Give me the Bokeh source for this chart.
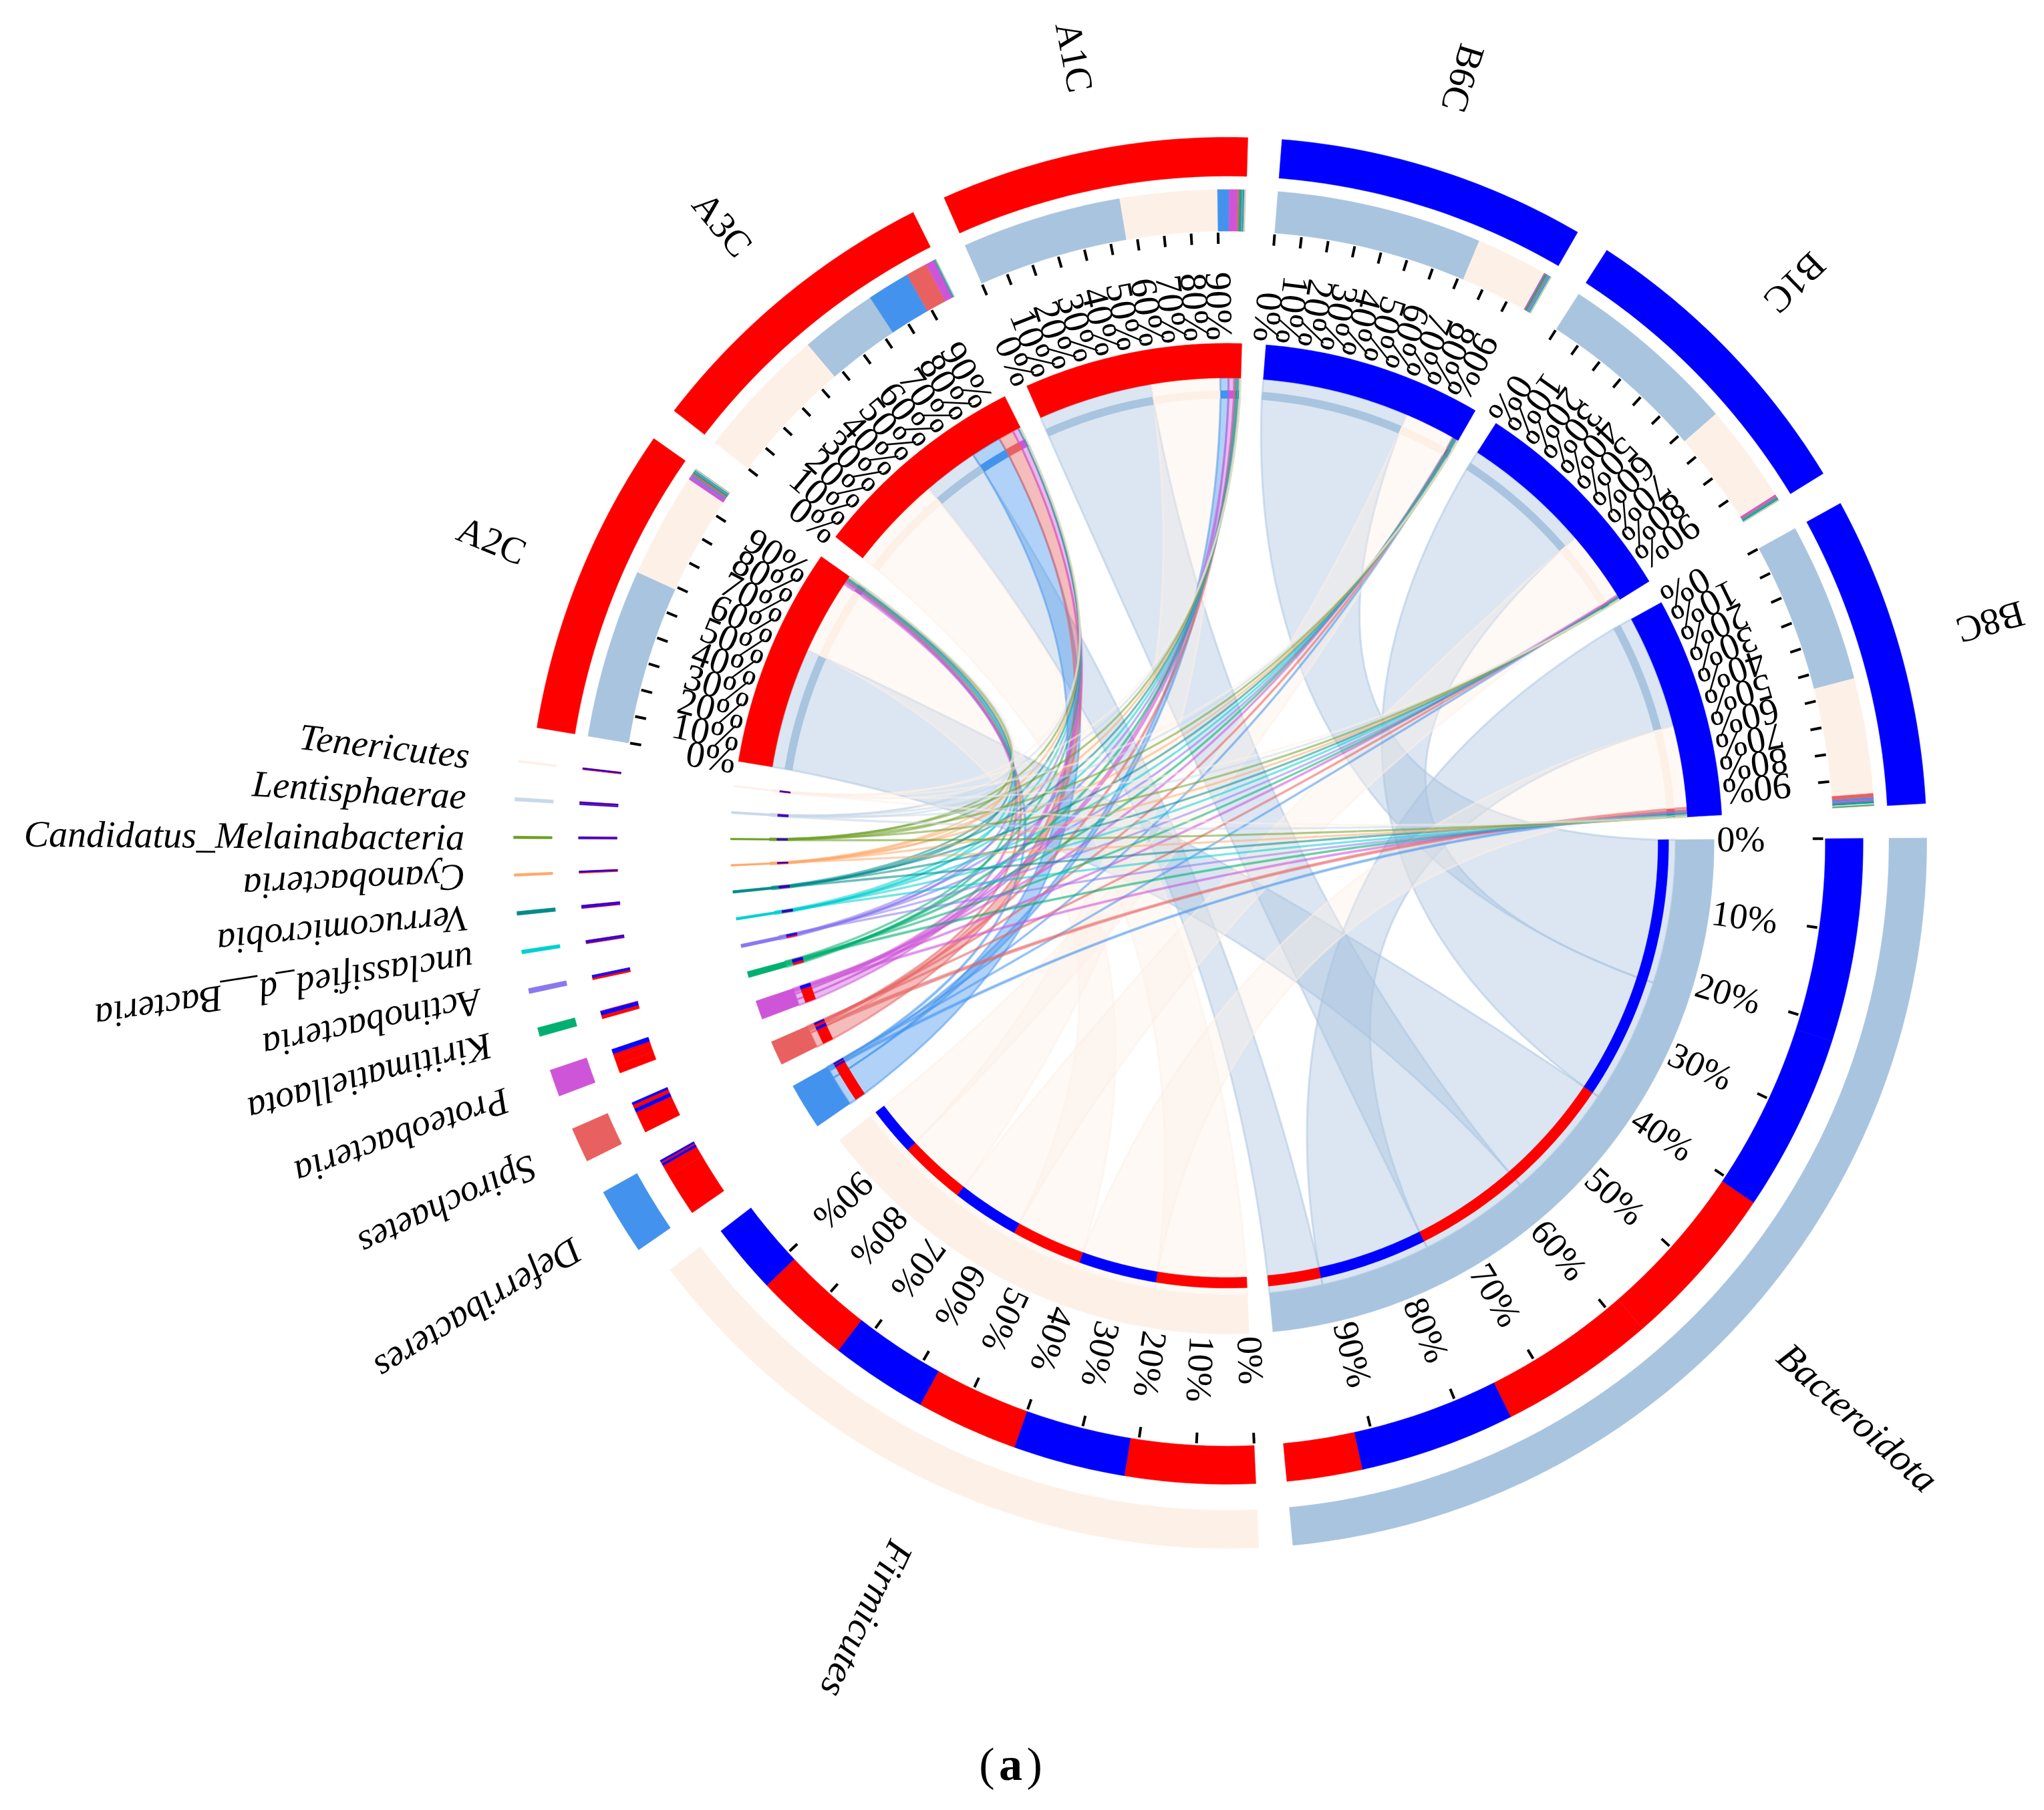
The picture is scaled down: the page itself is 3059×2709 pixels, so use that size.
import numpy as np
from bokeh.plotting import figure
from bokeh.models import Range1d
from bokeh.core.properties import value
from bokeh.embed import file_html
from bokeh.resources import INLINE

samples = ["A2C", "A3C", "A1C", "B6C", "B1C", "B8C"]
sample_colors = ["#FF0000", "#FF0000", "#FF0000", "#0000FF", "#0000FF", "#0000FF"]
species = ["Bacteroidota", "Firmicutes", "Deferribacteres", "Spirochaetes", "Proteobacteria",
           "Kiritimatiellaota", "Actinobacteria", "unclassified_d__Bacteria", "Verrucomicrobia",
           "Cyanobacteria", "Candidatus_Melainabacteria", "Lentisphaerae", "Tenericutes"]
species_colors = ["#A9C4DF", "#FDF0E6", "#4393EE", "#E86060", "#CE55D8", "#00B070", "#8A78F0",
                  "#00D0D0", "#008B8B", "#FFA868", "#6B9E23", "#C8D8E8", "#FDF0E6"]
bacteroidota = [59, 27, 56, 72, 63, 55.5]
firmicutes = [36.5, 46.5, 34, 25, 34.5, 40]
deferribacteres = [0.7, 15, 4, 0.3, 0.3, 0.8]
spirochaetes = [0.7, 7.5, 0.8, 0.4, 0.4, 1.3]
proteobacteria = [1.2, 3, 2.8, 0.5, 0.5, 0.6]
kiritimatiellaota = [0.5, 0.2, 0.8, 0.5, 0.3, 0.5]
actinobacteria = [0.35, 0.2, 0.4, 0.3, 0.15, 0.2]
unclassified = [0.2, 0.12, 0.25, 0.25, 0.18, 0.2]
verrucomicrobia = [0.2, 0.12, 0.25, 0.2, 0.18, 0.25]
cyanobacteria = [0.15, 0.08, 0.2, 0.12, 0.12, 0.13]
candidatus = [0.15, 0.08, 0.15, 0.14, 0.12, 0.16]
lentisphaerae = [0.2, 0.12, 0.2, 0.18, 0.15, 0.25]
tenericutes = [0.15, 0.08, 0.15, 0.11, 0.1, 0.11]
tick_labels = ["0%", "10%", "20%", "30%", "40%", "50%", "60%", "70%", "80%", "90%"]

M = np.array([bacteroidota, firmicutes, deferribacteres, spirochaetes, proteobacteria,
              kiritimatiellaota, actinobacteria, unclassified, verrucomicrobia,
              cyanobacteria, candidatus, lentisphaerae, tenericutes], dtype=float)

# ---- layout (style constants)
W, H = 3043, 2693
CX, CY, RX, RY = 1836, 1261, 1047, 1056
GAP, START = 2.8, -0.4
SERIF = value("Liberation Serif")

p = figure(width=W, height=H, output_backend="svg", toolbar_location=None,
           x_range=Range1d(-CX / RX, (W - CX) / RX), y_range=Range1d(-(H - CY) / RY, CY / RY),
           min_border=0, outline_line_color=None)
p.axis.visible = False
p.grid.visible = False
p.background_fill_color = "white"


def pol(r, a):
    a = np.radians(a)
    return r * np.cos(a), -r * np.sin(a)


def band(r0, r1, a0, a1):
    n = max(2, int(abs(a1 - a0) * 2) + 2)
    t = np.linspace(a0, a1, n)
    x0, y0 = pol(r0, t)
    x1, y1 = pol(r1, t[::-1])
    return np.r_[x0, x1], np.r_[y0, y1]


def bez(r0, a0, r1, a1, n=40):
    x0, y0 = pol(r0, a0)
    x1, y1 = pol(r1, a1)
    cx, cy = 0.04 * (x0 + x1), 0.04 * (y0 + y1)
    t = np.linspace(0, 1, n)
    return ((1 - t) ** 2 * x0 + 2 * t * (1 - t) * cx + t ** 2 * x1,
            (1 - t) ** 2 * y0 + 2 * t * (1 - t) * cy + t ** 2 * y1)


totals = np.r_[M.sum(axis=1), M.sum(axis=0)]
deg = (360 - GAP * len(totals)) / totals.sum()
starts = []
a = START
for tot in totals:
    starts.append(a)
    a += tot * deg + GAP
ns = len(species)
sp_start = starts[:ns]
sa_start = starts[ns:]
scale = [1.0 if i < 2 else 1.02 for i in range(ns)]  # small sectors sit slightly further out

# segment angles within sectors, each sorted descending
sp_seg = {}
for i in range(ns):
    a = sp_start[i]
    for j in sorted(range(6), key=lambda j: -M[i, j]):
        sp_seg[i, j] = (a, a + M[i, j] * deg)
        a += M[i, j] * deg
sa_seg = {}
for j in range(6):
    a = sa_start[j]
    for i in sorted(range(ns), key=lambda i: -M[i, j]):
        sa_seg[i, j] = (a, a + M[i, j] * deg)
        a += M[i, j] * deg

# ---- ribbons
rx, ry, rc = [], [], []
for i in range(ns):
    k = scale[i]
    for j in range(6):
        a0, a1 = sp_seg[i, j]
        b0, b1 = sa_seg[i, j]
        ax, ay = band(0.641 * k, 0.641 * k, a0, a1)
        ax, ay = ax[:len(ax) // 2], ay[:len(ay) // 2]
        e1x, e1y = bez(0.616 * k, a1, 0.630, b0)
        bx, by = band(0.659, 0.659, b0, b1)
        bx, by = bx[:len(bx) // 2], by[:len(by) // 2]
        e2x, e2y = bez(0.630, b1, 0.616 * k, a0)
        rx.append(np.r_[ax, e1x, bx, e2x].tolist())
        ry.append(np.r_[ay, e1y, by, e2y].tolist())
        rc.append(species_colors[i])
p.patches(rx, ry, fill_color=rc, fill_alpha=0.42, line_color=rc, line_alpha=0.5, line_width=3)


def add_bands(items):
    xs, ys, cs = [], [], []
    for r0, r1, a0, a1, c in items:
        x, y = band(r0, r1, a0, a1)
        xs.append(x.tolist())
        ys.append(y.tolist())
        cs.append(c)
    p.patches(xs, ys, fill_color=cs, line_color=cs, line_width=0.5)


items = []
for i in range(ns):
    a0 = sp_start[i]
    a1 = a0 + totals[i] * deg
    k = scale[i]
    items.append((0.946 * k, 1.0 * k, a0, a1, species_colors[i]))
    items.append((0.641 * k, 0.696 * k, a0, a1, species_colors[i]))
    for j in range(6):
        s0, s1 = sp_seg[i, j]
        items.append((0.855 * k, 0.909 * k, s0, s1, sample_colors[j]))
        items.append((0.616 * k, 0.631 * k, s0, s1, sample_colors[j]))
for j in range(6):
    a0 = sa_start[j]
    a1 = a0 + totals[ns + j] * deg
    items.append((0.945, 1.0, a0, a1, sample_colors[j]))
    items.append((0.659, 0.708, a0, a1, sample_colors[j]))
    for i in range(ns):
        s0, s1 = sa_seg[i, j]
        items.append((0.867, 0.926, s0, s1, species_colors[i]))
        items.append((0.630, 0.641, s0, s1, species_colors[i]))
add_bands(items)

# ---- ticks and tick labels
tx0, ty0, tx1, ty1 = [], [], [], []
lx, ly, lt, la = [], [], [], []
for i in range(2):
    a0 = sp_start[i]
    span = totals[i] * deg
    for k, lab in enumerate(tick_labels):
        t = a0 + span * k / 10
        x0, y0 = pol(0.837, t)
        x1, y1 = pol(0.852, t)
        tx0.append(x0); ty0.append(y0); tx1.append(x1); ty1.append(y1)
        x, y = pol(0.70, t)
        lx.append(x); ly.append(y); lt.append(lab); la.append(-t)
p.text(lx, ly, text=lt, angle=la, angle_units="deg", text_font=SERIF, text_font_size="54px",
       text_align="left", text_baseline="middle", text_color="black")
lx, ly, lt, la = [], [], [], []
for j in range(6):
    a0 = sa_start[j]
    span = totals[ns + j] * deg
    for k, lab in enumerate(tick_labels):
        t = a0 + span * k / 10
        x0, y0 = pol(0.849, t)
        x1, y1 = pol(0.865, t)
        tx0.append(x0); ty0.append(y0); tx1.append(x1); ty1.append(y1)
        x, y = pol(0.712, t)
        lx.append(x); ly.append(y); lt.append(lab); la.append(-(t + 180))
p.text(lx, ly, text=lt, angle=la, angle_units="deg", text_font=SERIF, text_font_size="56px",
       text_align="right", text_baseline="middle", text_color="black")
p.segment(tx0, ty0, tx1, ty1, line_color="black", line_width=4)

# ---- sector labels
for j, name in enumerate(samples):
    t = sa_start[j] + totals[ns + j] * deg / 2
    x, y = pol(1.135, t)
    p.text([x], [y], text=[name], angle=[-(t + 180)], angle_units="deg", text_font=SERIF,
           text_font_size="56px", text_align="center", text_baseline="middle", text_color="black")
for i in range(2):
    t = sp_start[i] + totals[i] * deg / 2
    x, y = pol(1.215, t)
    p.text([x], [y], text=[species[i]], angle=[-t], angle_units="deg", text_font=SERIF,
           text_font_style="italic", text_font_size="58px", text_align="center",
           text_baseline="middle", text_color="black")
for i in range(2, ns):
    t = sp_start[i] + totals[i] * deg / 2
    x, y = pol(1.09, t)
    flip = t > 180
    p.text([x], [y], text=[species[i]], angle=[-(t + 180) if flip else -t], angle_units="deg",
           text_font=SERIF, text_font_style="italic", text_font_size="56px",
           text_align="right" if flip else "left", text_baseline="middle", text_color="black")

# ---- panel caption
cap_x = (1512 - CX) / RX
cap_y = (CY - 2640) / RY
for frag, dx, style in [("(", -0.034, "normal"), ("a", 0.0, "bold"), (")", 0.034, "normal")]:
    p.text([cap_x + dx], [cap_y], text=[frag], text_font=SERIF, text_font_style=style,
           text_font_size="70px", text_align="center", text_baseline="middle", text_color="black")

open("out.html", "w").write(file_html(p, INLINE))
